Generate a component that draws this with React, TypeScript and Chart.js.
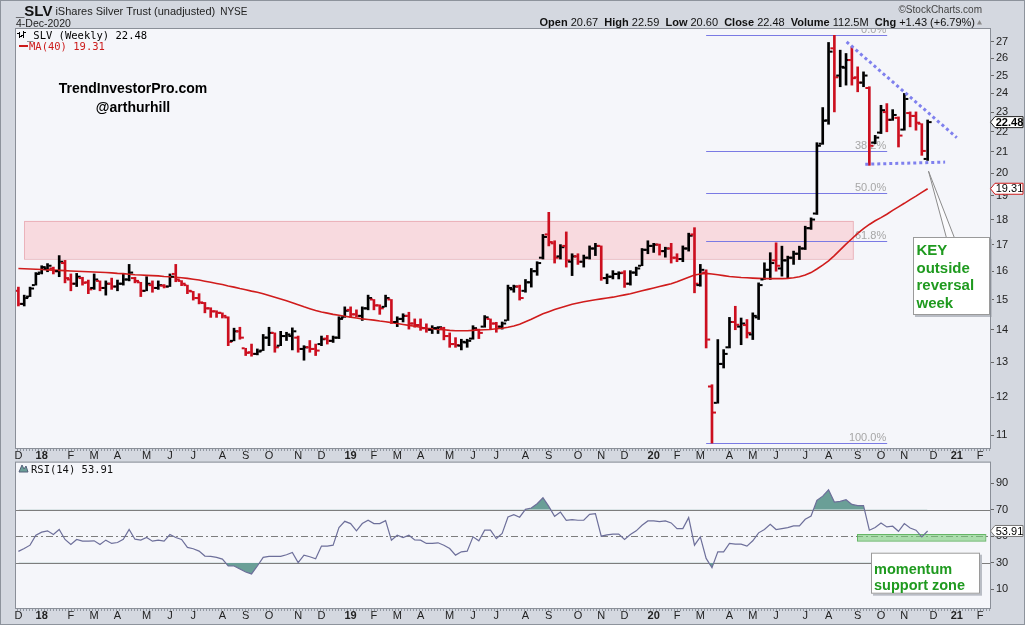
import React, { useEffect, useRef } from "react";
import { Chart, registerables } from "chart.js";

Chart.register(...registerables);

// ---------------- data (weekly bars, week 0 = week of 4-Dec-2017) ----------------
const opens = [
  15.30,14.85,15.10,15.50,15.95,16.10,16.10,16.00,16.30,15.70,
  15.55,15.75,15.60,15.40,15.65,15.40,15.55,15.45,15.55,15.70,
  15.75,15.60,15.30,15.50,15.40,15.48,15.45,15.90,15.65,15.50,
  15.28,15.05,14.88,14.70,14.60,14.55,14.40,13.65,13.95,13.42,
  13.30,13.25,13.35,13.75,13.90,13.50,13.80,13.80,13.75,13.40,
  13.45,13.40,13.55,13.72,13.65,13.75,14.40,14.65,14.50,14.45,
  14.70,15.00,14.80,14.75,15.00,14.25,14.35,14.45,14.20,14.15,
  14.05,14.00,14.05,14.05,13.80,13.55,13.50,13.60,13.72,14.00,
  14.10,14.35,14.20,14.10,14.30,15.35,15.45,15.30,15.60,16.00,
  16.50,17.40,17.05,16.55,16.95,16.35,16.55,16.35,16.50,16.85,
  16.95,15.75,15.80,15.90,15.95,15.55,15.95,16.20,16.80,16.95,
  17.00,16.75,16.85,16.50,16.45,16.85,17.40,15.50,15.95,12.30,
  11.85,12.95,13.45,14.25,14.10,14.15,13.85,14.40,15.70,16.05,
  16.40,16.10,16.40,16.50,16.65,16.85,17.65,18.25,21.40,22.57,
  26.60,25.00,25.45,25.90,24.90,24.60,24.30,21.45,21.95,23.00,
  22.60,22.70,22.10,22.95,22.80,22.40,20.67,
];
const highs = [
  15.43,15.15,15.43,15.95,16.20,16.28,16.15,16.58,16.40,15.90,
  15.92,15.78,15.68,15.90,15.65,15.65,15.75,15.68,15.90,16.25,
  15.78,15.60,15.80,15.65,15.65,15.52,15.90,16.25,15.66,15.50,
  15.28,15.20,14.90,14.72,14.62,14.55,14.42,14.05,14.08,13.42,
  13.55,13.40,13.85,14.08,13.90,13.95,13.92,14.06,13.80,13.50,
  13.66,13.55,13.80,13.82,13.80,14.42,14.75,14.75,14.65,14.75,
  15.15,15.00,14.82,15.15,15.00,14.42,14.52,14.57,14.35,14.35,
  14.19,14.13,14.10,14.08,13.90,13.75,13.70,13.70,14.13,14.02,
  14.46,14.35,14.24,14.25,15.50,15.50,15.50,15.70,16.10,16.35,
  17.40,18.30,17.15,17.00,17.50,16.65,16.65,16.60,16.95,17.05,
  16.95,15.90,16.02,15.98,16.02,16.02,16.15,16.85,17.15,17.05,
  17.02,16.90,17.05,16.65,16.95,17.45,17.67,16.25,16.05,12.35,
  13.69,13.38,14.40,14.77,14.38,14.33,14.55,15.58,16.31,16.69,
  17.07,16.94,16.56,16.75,16.94,17.73,18.07,21.45,23.24,26.96,
  27.40,26.49,26.29,26.69,25.50,25.21,24.37,21.81,23.36,23.45,
  23.13,22.75,24.00,23.01,23.01,22.40,22.59,
];
const lows = [
  14.78,14.78,15.10,15.50,15.90,15.98,15.90,15.80,15.58,15.30,
  15.45,15.50,15.20,15.35,15.30,15.15,15.35,15.30,15.50,15.65,
  15.58,15.10,15.30,15.25,15.35,15.40,15.45,15.62,15.48,15.20,
  14.98,14.85,14.55,14.40,14.40,14.38,13.50,13.65,13.70,13.20,
  13.18,13.22,13.35,13.50,13.30,13.50,13.66,13.37,13.30,13.06,
  13.30,13.20,13.50,13.55,13.60,13.72,14.40,14.40,14.42,14.30,
  14.65,14.65,14.50,14.75,14.20,14.10,14.25,14.02,14.08,13.98,
  13.92,13.88,13.88,13.68,13.45,13.45,13.37,13.45,13.70,13.72,
  14.08,14.02,13.92,14.02,14.30,15.25,14.98,15.25,15.43,15.85,
  16.45,16.95,16.30,16.45,16.15,15.84,16.25,16.15,16.45,16.58,
  15.67,15.55,15.72,15.72,15.42,15.50,15.84,16.20,16.65,16.70,
  16.60,16.52,16.30,16.35,16.35,16.75,15.23,15.46,13.43,10.81,
  11.84,12.83,13.43,14.00,13.53,13.74,13.69,14.33,15.70,15.70,
  16.00,15.82,15.76,16.25,16.43,16.81,17.60,18.21,21.37,22.37,
  23.01,24.37,24.46,24.46,24.09,24.37,20.37,21.40,21.90,21.99,
  22.57,21.24,22.07,22.24,22.07,20.84,20.60,
];
const closes = [
  14.85,15.05,15.38,15.90,16.15,16.20,16.00,16.35,15.75,15.55,
  15.80,15.58,15.35,15.70,15.40,15.55,15.45,15.55,15.70,15.95,
  15.65,15.30,15.55,15.40,15.50,15.45,15.80,15.70,15.55,15.30,
  15.05,14.90,14.70,14.60,14.55,14.45,13.62,13.95,13.75,13.28,
  13.25,13.32,13.75,13.90,13.45,13.80,13.85,13.95,13.40,13.45,
  13.40,13.35,13.70,13.65,13.75,14.35,14.62,14.50,14.45,14.70,
  15.05,14.80,14.70,15.05,14.25,14.35,14.45,14.20,14.15,14.05,
  14.00,14.05,14.08,13.80,13.55,13.52,13.62,13.65,14.05,13.90,
  14.40,14.20,14.10,14.20,15.40,15.45,15.05,15.60,16.00,16.30,
  17.30,17.10,16.50,16.90,16.40,16.55,16.35,16.50,16.85,16.95,
  15.75,15.80,15.90,15.93,15.55,15.95,16.10,16.80,16.95,17.00,
  16.75,16.85,16.50,16.45,16.85,17.35,15.55,16.05,13.69,11.59,
  12.95,13.25,14.25,14.16,14.20,13.90,14.45,15.50,16.05,16.30,
  16.20,16.40,16.50,16.65,16.85,17.65,18.00,21.30,22.55,26.40,
  24.90,25.50,25.90,24.85,24.60,25.00,21.30,21.70,23.10,22.60,
  22.85,21.80,23.70,22.80,22.45,21.05,22.48,
];
const ma40 = [
  16.10,16.09,16.08,16.07,16.06,16.05,16.04,16.03,16.02,16.01,
  16.00,15.99,15.98,15.97,15.96,15.95,15.94,15.92,15.91,15.89,
  15.87,15.86,15.85,15.84,15.83,15.81,15.80,15.78,15.76,15.74,
  15.71,15.68,15.64,15.60,15.56,15.52,15.47,15.43,15.38,15.34,
  15.29,15.25,15.20,15.14,15.08,15.02,14.96,14.89,14.82,14.75,
  14.69,14.63,14.58,14.54,14.50,14.47,14.44,14.41,14.38,14.35,
  14.33,14.31,14.28,14.26,14.23,14.20,14.17,14.14,14.11,14.08,
  14.05,14.03,14.01,14.00,13.98,13.97,13.97,13.97,13.98,13.99,
  14.00,14.01,14.03,14.05,14.08,14.12,14.18,14.26,14.34,14.43,
  14.52,14.59,14.66,14.72,14.78,14.84,14.88,14.92,14.96,14.99,
  15.02,15.05,15.08,15.12,15.16,15.20,15.25,15.30,15.35,15.40,
  15.45,15.50,15.55,15.62,15.70,15.78,15.86,15.90,15.92,15.90,
  15.87,15.84,15.81,15.79,15.77,15.76,15.75,15.74,15.73,15.73,
  15.73,15.73,15.74,15.76,15.80,15.86,15.95,16.08,16.22,16.38,
  16.58,16.80,17.02,17.23,17.44,17.63,17.80,17.95,18.08,18.22,
  18.38,18.53,18.68,18.84,18.99,19.15,19.31,
];
const rsi14 = [
  38.5,40.7,43.2,50.7,53.0,54.0,51.2,55.0,47.5,43.7,
  47.5,46.2,46.2,46.5,43.7,47.0,44.5,45.2,47.7,55.0,
  47.7,47.0,49.0,46.2,47.0,46.2,51.2,49.0,47.5,41.5,
  40.5,38.7,35.0,34.7,34.0,32.7,27.5,27.5,25.2,23.0,
  21.5,27.5,34.0,34.7,34.7,34.7,36.0,37.7,30.0,35.7,
  34.5,33.0,42.5,42.5,43.2,56.5,61.2,59.5,54.0,59.5,
  62.0,59.5,59.5,61.7,47.0,50.7,49.0,50.7,47.2,47.0,
  44.5,44.5,45.0,43.2,40.7,35.7,38.2,38.7,49.5,46.5,
  54.5,54.5,48.2,52.0,64.5,66.2,64.3,70.2,71.2,74.5,
  79.0,72.5,65.0,68.2,62.0,62.5,62.0,62.0,66.5,67.0,
  50.0,51.0,51.5,51.5,47.5,51.2,54.0,58.2,61.5,61.5,
  61.0,61.5,60.0,55.7,55.7,64.0,43.2,49.5,33.2,26.2,
  38.2,38.2,44.5,44.0,44.0,42.5,46.5,52.5,55.0,59.0,
  55.0,55.7,56.5,57.7,57.7,62.7,65.2,77.0,80.2,85.0,
  75.7,76.2,77.5,74.0,73.0,73.0,54.5,56.5,60.0,57.0,
  57.5,53.7,59.5,56.2,54.5,49.5,53.91,
];

// month tick positions (week index of first Monday in each month) and labels
const monthWeeks = [0,4,9,13,17,22,26,30,35,39,43,48,52,57,61,65,69,74,78,82,87,91,96,100,104,109,113,117,122,126,130,135,139,144,148,152,157,161,165];
const monthLabels = ["D","18","F","M","A","M","J","J","A","S","O","N","D","19","F","M","A","M","J","J","A","S","O","N","D","20","F","M","A","M","J","J","A","S","O","N","D","21","F"];
const priceTicks = [11,12,13,14,15,16,17,18,19,20,21,22,23,24,25,26,27];
const rsiTicks = [10,30,50,70,90];
const fibRatios = [0, 0.382, 0.5, 0.618, 1];
const fibLabels = ["0.0%","38.2%","50.0%","61.8%","100.0%"];
const volumeText = "112.5M";

// annotation anchors (data units)
const resistanceZone = { from: 1, to: 143.2, low: 16.47, high: 17.95 };
const fibSpan = { from: 118, to: 149.06 };
const downTrend = { x1: 142.1, y1: 27.0, x2: 161.0, y2: 21.7 };
const supportLine = { x1: 145.3, y1: 20.42, x2: 159.0, y2: 20.52 };
const pointerTip = { x: 156.15, y: 20.1 };
const rsiZone = { from: 143.9, to: 165.9, low: 46.5, high: 51.5 };

// ---------------- styling ----------------
const X_MIN = -0.41, X_MAX = 166.7;
const P_MIN = 10.69, P_MAX = 27.8;
const R_MIN = -4.2, R_MAX = 105.5;
const FONT = '"Liberation Sans", Arial, Helvetica, sans-serif';
const MONO = '"DejaVu Sans Mono", "Liberation Mono", monospace';
const BG_OUT = "#D4D8E0";
const BG_PLOT = "#F5F6FA";
const UP = "#000000";
const DOWN = "#cc0f1f";
const GREEN = "#1f9a1f";
const TEAL = "#6a9f97";
const RSI_TOP = 454; // page y of the RSI canvas

const last = closes.length - 1;
const barColors = closes.map((c, i) => (c >= (i ? closes[i - 1] : opens[0]) ? UP : DOWN));

function clipArea(ctx: any, a: any) {
  ctx.beginPath();
  ctx.rect(a.left, a.top, a.right - a.left, a.bottom - a.top);
  ctx.clip();
}

function stripDots(ctx: any, a: any, y: number) {
  ctx.fillStyle = "#9096a0";
  for (let px = a.left + 1; px < a.right; px += 3) ctx.fillRect(px, y, 1, 2);
}

function monthText(ctx: any, xs: any, yc: number) {
  ctx.textAlign = "center";
  ctx.textBaseline = "middle";
  ctx.fillStyle = "#222";
  monthWeeks.forEach((w, i) => {
    const lbl = monthLabels[i];
    ctx.font = `${/\d/.test(lbl) ? "bold " : ""}11px ${FONT}`;
    ctx.fillText(lbl, xs.getPixelForValue(w), yc);
  });
}

function noteBox(ctx: any, x: number, y: number, w: number, h: number) {
  ctx.fillStyle = "#b9bdc5";
  ctx.fillRect(x + 2, y + 2, w, h);
  ctx.fillStyle = "#ffffff";
  ctx.fillRect(x, y, w, h);
  ctx.strokeStyle = "#9a9a9a";
  ctx.lineWidth = 1;
  ctx.strokeRect(x + 0.5, y + 0.5, w - 1, h - 1);
}

function tag(ctx: any, yPix: number, text: string, border: string, bold: boolean) {
  const tip = 990.5, x1 = 995, x2 = 1023, h = 11;
  ctx.beginPath();
  ctx.moveTo(tip, yPix);
  ctx.lineTo(x1, yPix - h / 2);
  ctx.lineTo(x2, yPix - h / 2);
  ctx.lineTo(x2, yPix + h / 2);
  ctx.lineTo(x1, yPix + h / 2);
  ctx.closePath();
  ctx.fillStyle = "#ffffff";
  ctx.fill();
  ctx.strokeStyle = border;
  ctx.lineWidth = 1;
  ctx.stroke();
  ctx.fillStyle = "#000";
  ctx.font = `${bold ? "bold " : ""}11px ${FONT}`;
  ctx.textAlign = "center";
  ctx.textBaseline = "middle";
  ctx.fillText(text, (x1 + x2) / 2 + 0.5, yPix + 0.5);
}

const pricePlugin = {
  id: "priceDecor",
  beforeDraw(chart: any) {
    const { ctx, chartArea: a } = chart;
    ctx.save();
    ctx.fillStyle = BG_OUT;
    ctx.fillRect(0, 0, chart.width, chart.height);
    ctx.fillStyle = BG_PLOT;
    ctx.fillRect(a.left, a.top, a.right - a.left, a.bottom - a.top);
    ctx.restore();
  },
  beforeDatasetsDraw(chart: any) {
    const { ctx, chartArea: a } = chart;
    const x = chart.scales.x, y = chart.scales.y;
    ctx.save();
    clipArea(ctx, a);
    const zx1 = x.getPixelForValue(resistanceZone.from), zx2 = x.getPixelForValue(resistanceZone.to);
    const zy1 = y.getPixelForValue(resistanceZone.high), zy2 = y.getPixelForValue(resistanceZone.low);
    ctx.fillStyle = "#F8DADF";
    ctx.fillRect(zx1, zy1, zx2 - zx1, zy2 - zy1);
    ctx.strokeStyle = "#EBB3BB";
    ctx.lineWidth = 1;
    ctx.strokeRect(Math.round(zx1) + 0.5, Math.round(zy1) + 0.5, zx2 - zx1, zy2 - zy1);
    const hi = Math.max(...highs), lo = Math.min(...lows);
    const fx1 = x.getPixelForValue(fibSpan.from), fx2 = x.getPixelForValue(fibSpan.to);
    fibRatios.forEach((r, k) => {
      const py = Math.round(y.getPixelForValue(hi - r * (hi - lo))) + 0.5;
      ctx.strokeStyle = "#7a7ae4";
      ctx.lineWidth = 1;
      ctx.beginPath();
      ctx.moveTo(fx1, py);
      ctx.lineTo(fx2, py);
      ctx.stroke();
      ctx.fillStyle = "#a6a6a6";
      ctx.font = `11px ${FONT}`;
      ctx.textAlign = "right";
      ctx.textBaseline = "alphabetic";
      ctx.fillText(fibLabels[k], fx2 - 1, py - 2.5);
    });
    ctx.restore();
  },
  afterDatasetsDraw(chart: any) {
    const { ctx, chartArea: a } = chart;
    const x = chart.scales.x, y = chart.scales.y;
    ctx.save();
    clipArea(ctx, a);
    for (let i = 0; i <= last; i++) {
      const px = x.getPixelForValue(i);
      ctx.fillStyle = barColors[i];
      ctx.fillRect(px - 4, y.getPixelForValue(opens[i]) - 1, 3, 2);
      ctx.fillRect(px + 1, y.getPixelForValue(closes[i]) - 1, 3, 2);
    }
    ctx.strokeStyle = "#7f80ee";
    ctx.lineWidth = 3;
    ctx.setLineDash([3, 3]);
    for (const l of [downTrend, supportLine]) {
      ctx.beginPath();
      ctx.moveTo(x.getPixelForValue(l.x1), y.getPixelForValue(l.y1));
      ctx.lineTo(x.getPixelForValue(l.x2), y.getPixelForValue(l.y2));
      ctx.stroke();
    }
    ctx.setLineDash([]);
    ctx.restore();

    ctx.save();
    const bx = 913, by = 237, bw = 77, bh = 78;
    const tx = x.getPixelForValue(pointerTip.x), ty = y.getPixelForValue(pointerTip.y);
    ctx.beginPath();
    ctx.moveTo(tx, ty);
    ctx.lineTo(954.5, by + 1);
    ctx.lineTo(946.5, by + 1);
    ctx.closePath();
    ctx.fillStyle = "#fbfbfd";
    ctx.fill();
    ctx.strokeStyle = "#8c8c8c";
    ctx.lineWidth = 1;
    ctx.stroke();
    noteBox(ctx, bx, by, bw, bh);
    ctx.fillStyle = GREEN;
    ctx.font = `bold 15px ${FONT}`;
    ctx.textAlign = "left";
    ctx.textBaseline = "alphabetic";
    ["KEY", "outside", "reversal", "week"].forEach((t, k) => ctx.fillText(t, 916.5, 255 + k * 17.6));
    ctx.restore();
  },
  afterDraw(chart: any) {
    const { ctx, chartArea: a } = chart;
    const y = chart.scales.y;
    ctx.save();
    ctx.strokeStyle = "#8a8f98";
    ctx.lineWidth = 1;
    ctx.strokeRect(a.left - 0.5, a.top - 0.5, a.right - a.left + 1, a.bottom - a.top + 1);
    stripDots(ctx, a, a.bottom + 1);
    monthText(ctx, chart.scales.x, 455.5);

    // header
    ctx.textAlign = "left";
    ctx.textBaseline = "alphabetic";
    ctx.fillStyle = "#111";
    ctx.font = `bold 15px ${FONT}`;
    ctx.fillText("_SLV", 16, 15.5);
    const w = ctx.measureText("_SLV").width;
    ctx.font = `11px ${FONT}`;
    ctx.fillStyle = "#222";
    ctx.fillText("iShares Silver Trust (unadjusted)", 16 + w + 3, 15);
    const w2 = ctx.measureText("iShares Silver Trust (unadjusted)").width;
    ctx.font = `10px ${FONT}`;
    ctx.fillText("NYSE", 16 + w + 3 + w2 + 5, 15);
    ctx.font = `10.5px ${FONT}`;
    ctx.fillText("4-Dec-2020", 16, 26.5);

    ctx.font = `10px ${FONT}`;
    ctx.fillStyle = "#444";
    ctx.textAlign = "right";
    ctx.fillText("\u00A9StockCharts.com", 982, 12.5);

    const prev = closes[last - 1];
    const chg = closes[last] - prev;
    const segs: [string, boolean][] = [
      ["Open", true], [` ${opens[last].toFixed(2)}  `, false],
      ["High", true], [` ${highs[last].toFixed(2)}  `, false],
      ["Low", true], [` ${lows[last].toFixed(2)}  `, false],
      ["Close", true], [` ${closes[last].toFixed(2)}  `, false],
      ["Volume", true], [` ${volumeText}  `, false],
      ["Chg", true], [` ${chg >= 0 ? "+" : ""}${chg.toFixed(2)} (${chg >= 0 ? "+" : ""}${((chg / prev) * 100).toFixed(2)}%)`, false],
    ];
    ctx.textAlign = "left";
    let total = 0;
    for (const [t, b] of segs) {
      ctx.font = `${b ? "bold " : ""}11px ${FONT}`;
      total += ctx.measureText(t).width;
    }
    let sx = 975 - total;
    for (const [t, b] of segs) {
      ctx.font = `${b ? "bold " : ""}11px ${FONT}`;
      ctx.fillStyle = "#111";
      ctx.fillText(t, sx, 26);
      sx += ctx.measureText(t).width;
    }
    ctx.fillStyle = "#8a8a8a";
    ctx.beginPath();
    ctx.moveTo(977, 24.5);
    ctx.lineTo(982, 24.5);
    ctx.lineTo(979.5, 20);
    ctx.closePath();
    ctx.fill();

    // in-plot legend
    ctx.fillStyle = "#000";
    ctx.fillRect(19, 32, 1, 6);
    ctx.fillRect(17, 33, 2, 1);
    ctx.fillRect(20, 36, 2, 1);
    ctx.fillRect(23, 31, 1, 7);
    ctx.fillRect(21, 35, 2, 1);
    ctx.fillRect(24, 32, 2, 1);
    ctx.font = `10.5px ${MONO}`;
    ctx.fillText(`_SLV (Weekly) ${closes[last].toFixed(2)}`, 27, 39);
    ctx.fillStyle = "#cc1b1b";
    ctx.fillRect(19, 45, 9, 2);
    ctx.fillText(`MA(40) ${ma40[last].toFixed(2)}`, 29, 50);

    ctx.fillStyle = "#000";
    ctx.font = `bold 14px ${FONT}`;
    ctx.textAlign = "center";
    ctx.fillText("TrendInvestorPro.com", 133, 93);
    ctx.fillText("@arthurhill", 133, 112);

    tag(ctx, y.getPixelForValue(closes[last]), closes[last].toFixed(2), "#222", true);
    tag(ctx, y.getPixelForValue(ma40[last]), ma40[last].toFixed(2), "#cc1b1b", false);
    ctx.restore();
  },
};

const rsiPlugin = {
  id: "rsiDecor",
  beforeDraw(chart: any) {
    const { ctx, chartArea: a } = chart;
    ctx.save();
    ctx.fillStyle = BG_PLOT;
    ctx.fillRect(a.left, a.top, a.right - a.left, a.bottom - a.top);
    ctx.restore();
  },
  beforeDatasetsDraw(chart: any) {
    const { ctx, chartArea: a } = chart;
    const x = chart.scales.x, y = chart.scales.y;
    ctx.save();
    clipArea(ctx, a);
    ctx.strokeStyle = "#7d7d7d";
    ctx.lineWidth = 1;
    for (const v of [70, 30]) {
      const py = Math.round(y.getPixelForValue(v)) + 0.5;
      ctx.beginPath();
      ctx.moveTo(a.left, py);
      ctx.lineTo(a.right, py);
      ctx.stroke();
    }
    const p50 = Math.round(y.getPixelForValue(50)) + 0.5;
    ctx.setLineDash([7, 3, 2, 3]);
    ctx.beginPath();
    ctx.moveTo(a.left, p50);
    ctx.lineTo(a.right, p50);
    ctx.stroke();
    ctx.setLineDash([]);
    const zx1 = x.getPixelForValue(rsiZone.from), zx2 = x.getPixelForValue(rsiZone.to);
    const zy1 = y.getPixelForValue(rsiZone.high), zy2 = y.getPixelForValue(rsiZone.low);
    ctx.fillStyle = "rgba(120,205,120,0.6)";
    ctx.fillRect(zx1, zy1, zx2 - zx1, zy2 - zy1);
    ctx.strokeStyle = "rgba(80,170,80,0.8)";
    ctx.strokeRect(Math.round(zx1) + 0.5, Math.round(zy1) + 0.5, zx2 - zx1, zy2 - zy1);
    ctx.restore();
  },
  afterDraw(chart: any) {
    const { ctx, chartArea: a } = chart;
    const y = chart.scales.y;
    const off = RSI_TOP;
    ctx.save();
    ctx.strokeStyle = "#8a8f98";
    ctx.lineWidth = 1;
    ctx.strokeRect(a.left - 0.5, a.top - 0.5, a.right - a.left + 1, a.bottom - a.top + 1);
    stripDots(ctx, a, a.bottom + 1);
    monthText(ctx, chart.scales.x, 616 - off);
    // legend
    ctx.fillStyle = TEAL;
    ctx.beginPath();
    ctx.moveTo(19, 472 - off);
    ctx.lineTo(22, 465 - off);
    ctx.lineTo(24, 469 - off);
    ctx.lineTo(26, 466 - off);
    ctx.lineTo(28, 472 - off);
    ctx.closePath();
    ctx.fill();
    ctx.strokeStyle = "#55607a";
    ctx.stroke();
    ctx.fillStyle = "#111";
    ctx.font = `10.5px ${MONO}`;
    ctx.textAlign = "left";
    ctx.textBaseline = "alphabetic";
    ctx.fillText(`RSI(14) ${rsi14[last].toFixed(2)}`, 31, 473 - off);
    tag(ctx, y.getPixelForValue(rsi14[last]), rsi14[last].toFixed(2), "#777", false);
    noteBox(ctx, 871, 552.7 - off, 109, 41);
    ctx.fillStyle = GREEN;
    ctx.font = `bold 14.5px ${FONT}`;
    ctx.textAlign = "left";
    ctx.fillText("momentum", 874, 569.5 - off);
    ctx.fillText("support zone", 874, 586 - off);
    ctx.restore();
  },
};

function xScale(height: number) {
  return {
    type: "linear",
    min: X_MIN,
    max: X_MAX,
    bounds: "data",
    offset: false,
    afterFit: (s: any) => { s.height = height; },
    afterBuildTicks: (s: any) => { s.ticks = monthWeeks.map((v) => ({ value: v })); },
    grid: { display: false },
    border: { display: false },
    ticks: { display: false, autoSkip: false },
  };
}

export default function App() {
  const priceRef = useRef<HTMLCanvasElement>(null);
  const rsiRef = useRef<HTMLCanvasElement>(null);

  useEffect(() => {
    const priceChart = new Chart(priceRef.current as HTMLCanvasElement, {
      type: "bar",
      data: {
        datasets: [
          {
            type: "line",
            label: "MA(40)",
            data: ma40.map((v, i) => ({ x: i, y: v })),
            borderColor: "#d01c1c",
            borderWidth: 1.6,
            pointRadius: 0,
            tension: 0,
            order: 0,
          } as any,
          {
            type: "bar",
            label: "SLV",
            data: lows.map((l, i) => ({ x: i, y: [l, highs[i]] })),
            backgroundColor: barColors,
            borderWidth: 0,
            barThickness: 2,
            order: 1,
          } as any,
        ],
      },
      options: {
        responsive: false,
        animation: false,
        events: [],
        layout: { padding: { left: 16, top: 29, right: 0, bottom: 0 }, autoPadding: false } as any,
        plugins: { legend: { display: false }, tooltip: { enabled: false } },
        scales: {
          x: xScale(13) as any,
          y: {
            type: "logarithmic",
            position: "right",
            min: P_MIN,
            max: P_MAX,
            bounds: "data",
            afterFit: (s: any) => { s.width = 35; },
            afterBuildTicks: (s: any) => { s.ticks = priceTicks.map((v) => ({ value: v })); },
            grid: { display: true, drawOnChartArea: false, drawTicks: true, tickLength: 4, color: "#666" },
            border: { display: false },
            ticks: { autoSkip: false, padding: 2, color: "#222", font: { family: FONT, size: 11 }, callback: (v: any) => String(v) },
          } as any,
        },
      },
      plugins: [pricePlugin],
    });

    const rsiPoints = rsi14.map((v, i) => ({ x: i, y: v }));
    const rsiChart = new Chart(rsiRef.current as HTMLCanvasElement, {
      type: "line",
      data: {
        datasets: [
          {
            label: "RSI(14)",
            data: rsiPoints,
            borderColor: "#6d6f9a",
            borderWidth: 1.2,
            pointRadius: 0,
            tension: 0,
            fill: { target: { value: 70 }, above: TEAL, below: "rgba(0,0,0,0)" },
          } as any,
          {
            label: "oversold",
            data: rsiPoints,
            borderColor: "rgba(0,0,0,0)",
            borderWidth: 0,
            pointRadius: 0,
            tension: 0,
            fill: { target: { value: 30 }, above: "rgba(0,0,0,0)", below: TEAL },
          } as any,
        ],
      },
      options: {
        responsive: false,
        animation: false,
        events: [],
        layout: { padding: { left: 16, top: 8, right: 0, bottom: 0 }, autoPadding: false } as any,
        plugins: { legend: { display: false }, tooltip: { enabled: false } },
        scales: {
          x: xScale(17) as any,
          y: {
            type: "linear",
            position: "right",
            min: R_MIN,
            max: R_MAX,
            bounds: "data",
            afterFit: (s: any) => { s.width = 35; },
            afterBuildTicks: (s: any) => { s.ticks = rsiTicks.map((v) => ({ value: v })); },
            grid: { display: true, drawOnChartArea: false, drawTicks: true, tickLength: 4, color: "#666" },
            border: { display: false },
            ticks: { autoSkip: false, padding: 2, color: "#222", font: { family: FONT, size: 11 }, callback: (v: any) => String(v) },
          } as any,
        },
      },
      plugins: [rsiPlugin],
    });

    return () => {
      priceChart.destroy();
      rsiChart.destroy();
    };
  }, []);

  return (
    <div style={{ position: "fixed", left: 0, top: 0, width: 1025, height: 625, background: BG_OUT, overflow: "hidden" }}>
      <canvas ref={priceRef} width={1025} height={461} style={{ position: "absolute", left: 0, top: 0, width: 1025, height: 461 }} />
      <canvas ref={rsiRef} width={1025} height={625 - RSI_TOP} style={{ position: "absolute", left: 0, top: RSI_TOP, width: 1025, height: 625 - RSI_TOP }} />
      <div style={{ position: "absolute", left: 0, top: 0, width: 1025, height: 625, boxSizing: "border-box", border: "1px solid #8d939c", pointerEvents: "none" }} />
    </div>
  );
}
